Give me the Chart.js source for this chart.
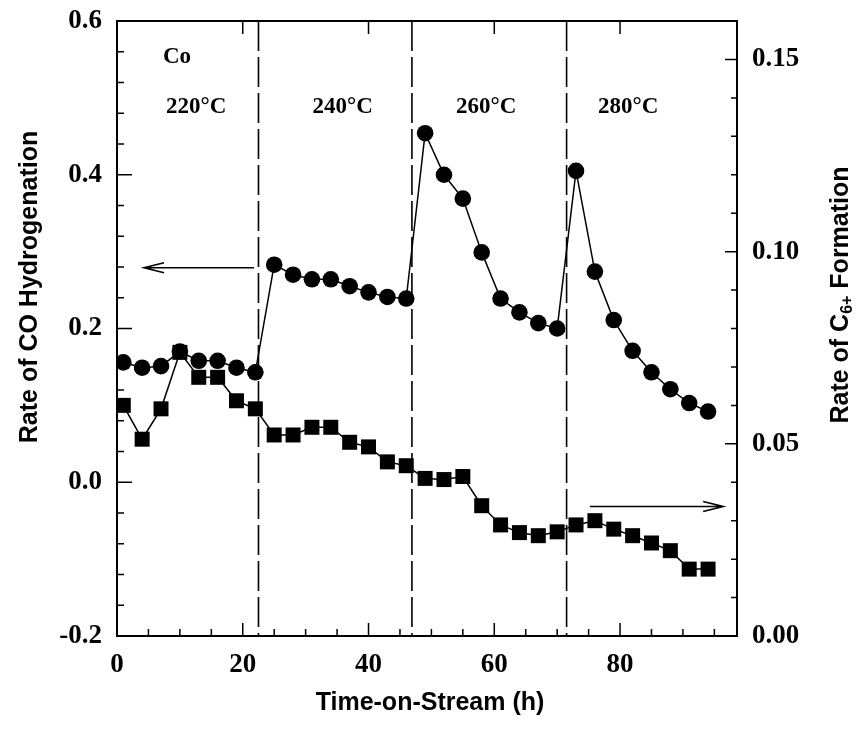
<!DOCTYPE html>
<html>
<head>
<meta charset="utf-8">
<script src="https://cdn.jsdelivr.net/npm/chart.js@4.4.1/dist/chart.umd.min.js"></script>
<style>
  html, body { margin: 0; padding: 0; background: #fff; }
  #wrap { width: 866px; height: 729px; }
</style>
</head>
<body>
<div id="wrap"><canvas id="tosChart" width="866" height="729"></canvas></div>
<script>
// time-on-stream (h)
const times = [1, 4, 7, 10, 13, 16, 19, 22, 25, 28, 31, 34, 37, 40, 43, 46,
               49, 52, 55, 58, 61, 64, 67, 70, 73, 76, 79, 82, 85, 88, 91, 94];
// rate of CO hydrogenation (left axis, circles)
const coRate = [0.156, 0.149, 0.151, 0.170, 0.158, 0.158, 0.149, 0.143,
                0.283, 0.270, 0.264, 0.264, 0.255, 0.247, 0.241, 0.239,
                0.454, 0.400, 0.369, 0.299, 0.239, 0.221, 0.207, 0.200,
                0.405, 0.274, 0.211, 0.171, 0.143, 0.121, 0.103, 0.092];
// rate of C6+ formation (right axis, squares)
const c6Rate = [0.0600, 0.0512, 0.0591, 0.0738, 0.0673, 0.0673, 0.0612, 0.0591,
                0.0523, 0.0523, 0.0543, 0.0543, 0.0504, 0.0492, 0.0453, 0.0443,
                0.0410, 0.0407, 0.0415, 0.0339, 0.0289, 0.0269, 0.0261, 0.0271,
                0.0289, 0.0300, 0.0278, 0.0261, 0.0242, 0.0222, 0.0174, 0.0174];

const xTicks = [0, 20, 40, 60, 80];
const leftTicks = [-0.2, 0.0, 0.2, 0.4, 0.6];
const rightTicks = [0.00, 0.05, 0.10, 0.15];

// temperature change times (dashed lines)
const switchTimes = [22.5, 46.9, 71.5];
// labels inside the plot: [text, time, left-axis value]
const regionLabels = [
    ['220°C', 12.6, 0.4875],
    ['240°C', 35.9, 0.4875],
    ['260°C', 58.7, 0.4875],
    ['280°C', 81.3, 0.4875]
];
const catalystLabel = ['Co', 7.3, 0.553];
// arrows: [axis, fromTime, toTime, value]
const arrows = [
    ['y', 21.8, 4.3, 0.279],
    ['y1', 75.2, 96.4, 0.0337]
];

const serif = "'Liberation Serif', 'Times New Roman', serif";
const sans = "'Liberation Sans', Arial, sans-serif";

function toPoints(xs, ys) {
    return xs.map((x, i) => ({ x: x, y: ys[i] }));
}

const decorations = {
    id: 'decorations',
    beforeDatasetsDraw(chart) {
        const ctx = chart.ctx;
        const a = chart.chartArea;
        const sx = chart.scales.x, sy = chart.scales.y, sy1 = chart.scales.y1;
        ctx.save();
        ctx.strokeStyle = '#000';

        // dashed dividers
        ctx.lineWidth = 1.6;
        ctx.setLineDash([30, 6]);
        switchTimes.forEach(t => {
            const px = sx.getPixelForValue(t);
            ctx.beginPath();
            ctx.moveTo(px, a.top);
            ctx.lineTo(px, a.bottom);
            ctx.stroke();
        });
        ctx.setLineDash([]);

        // frame
        ctx.lineWidth = 2;
        ctx.strokeRect(a.left, a.top, a.right - a.left, a.bottom - a.top);

        // inward ticks
        ctx.lineWidth = 1.5;
        ctx.beginPath();
        for (let t = 0; t <= 95; t += 5) {
            const px = sx.getPixelForValue(t);
            const major = t % 20 === 0;
            ctx.moveTo(px, a.bottom);
            ctx.lineTo(px, a.bottom - (major ? 13 : 7));
            if (major && t > 0) {
                ctx.moveTo(px, a.top);
                ctx.lineTo(px, a.top + 13);
            }
        }
        for (let i = 0; i <= 20; i++) {
            const v = -0.2 + i * 0.04;
            const py = sy.getPixelForValue(v);
            ctx.moveTo(a.left, py);
            ctx.lineTo(a.left + (i % 5 === 0 ? 15 : 7), py);
        }
        for (let i = 0; i <= 16; i++) {
            const py = sy1.getPixelForValue(i * 0.01);
            ctx.moveTo(a.right, py);
            ctx.lineTo(a.right - (i % 5 === 0 ? 12 : 6), py);
        }
        ctx.stroke();

        // arrows
        ctx.lineWidth = 1.6;
        arrows.forEach(([axis, t0, t1, v]) => {
            const scale = chart.scales[axis];
            const x0 = sx.getPixelForValue(t0), x1 = sx.getPixelForValue(t1);
            const py = scale.getPixelForValue(v);
            const dir = x1 > x0 ? 1 : -1;
            ctx.beginPath();
            ctx.moveTo(x0, py);
            ctx.lineTo(x1, py);
            ctx.moveTo(x1 - dir * 20, py - 5);
            ctx.lineTo(x1, py);
            ctx.lineTo(x1 - dir * 20, py + 5);
            ctx.stroke();
        });
        ctx.restore();
    },
    afterDraw(chart) {
        const ctx = chart.ctx;
        const a = chart.chartArea;
        const sx = chart.scales.x, sy = chart.scales.y;
        ctx.save();
        ctx.fillStyle = '#000';
        ctx.font = 'bold 23px ' + serif;
        ctx.textBaseline = 'middle';
        ctx.textAlign = 'center';
        regionLabels.forEach(([txt, t, v]) => {
            ctx.fillText(txt, sx.getPixelForValue(t), sy.getPixelForValue(v));
        });
        ctx.textAlign = 'left';
        ctx.fillText(catalystLabel[0], sx.getPixelForValue(catalystLabel[1]), sy.getPixelForValue(catalystLabel[2]));

        // x axis title
        ctx.font = 'bold 25px ' + sans;
        ctx.textAlign = 'center';
        ctx.fillText('Time-on-Stream (h)', (a.left + a.right) / 2 + 3, 703);

        // left axis title
        ctx.save();
        ctx.translate(30, 287);
        ctx.rotate(-Math.PI / 2);
        ctx.fillText('Rate of CO Hydrogenation', 0, 0);
        ctx.restore();

        // right axis title with subscript
        const big = 'bold 25px ' + sans, small = 'bold 16px ' + sans;
        const parts = [['Rate of C', big, 0], ['6+', small, 7], [' Formation', big, 0]];
        let total = 0;
        parts.forEach(p => { ctx.font = p[1]; total += ctx.measureText(p[0]).width; });
        ctx.save();
        ctx.translate(841, 295);
        ctx.rotate(-Math.PI / 2);
        ctx.textAlign = 'left';
        let cx = -total / 2;
        parts.forEach(p => {
            ctx.font = p[1];
            ctx.fillText(p[0], cx, p[2]);
            cx += ctx.measureText(p[0]).width;
        });
        ctx.restore();
        ctx.restore();
    }
};

function fixedWidth(w) {
    return function (scale) {
        scale.width = w;
        scale.paddingTop = 0;
        scale.paddingBottom = 0;
    };
}

new Chart(document.getElementById('tosChart').getContext('2d'), {
    type: 'line',
    plugins: [decorations],
    data: {
        datasets: [
            {
                label: 'CO hydrogenation',
                data: toPoints(times, coRate),
                yAxisID: 'y',
                borderColor: '#000',
                backgroundColor: '#000',
                borderWidth: 1.5,
                pointStyle: 'circle',
                pointRadius: 8.3,
                pointBorderWidth: 0,
                tension: 0,
                order: 2
            },
            {
                label: 'C6+ formation',
                data: toPoints(times, c6Rate),
                yAxisID: 'y1',
                borderColor: '#000',
                backgroundColor: '#000',
                borderWidth: 1.5,
                pointStyle: 'rect',
                pointRadius: 10.6,
                pointBorderWidth: 0,
                tension: 0,
                order: 1
            }
        ]
    },
    options: {
        responsive: false,
        animation: false,
        layout: { padding: { top: 21, left: 0, right: 0, bottom: 0 } },
        plugins: {
            legend: { display: false },
            tooltip: { enabled: false }
        },
        scales: {
            x: {
                type: 'linear',
                min: 0,
                max: 98.6,
                grid: { display: false, drawTicks: false },
                border: { display: false },
                afterBuildTicks(scale) { scale.ticks = xTicks.map(v => ({ value: v })); },
                afterFit(scale) {
                    scale.height = 93;
                    scale.paddingLeft = 0;
                    scale.paddingRight = 0;
                },
                ticks: {
                    color: '#000',
                    padding: 13,
                    maxRotation: 0,
                    font: { family: serif, size: 27, weight: 'bold' },
                    callback: v => String(v)
                }
            },
            y: {
                type: 'linear',
                position: 'left',
                min: -0.2,
                max: 0.6,
                grid: { display: false, drawTicks: false },
                border: { display: false },
                afterBuildTicks(scale) { scale.ticks = leftTicks.map(v => ({ value: v })); },
                afterFit: fixedWidth(117),
                ticks: {
                    color: '#000',
                    padding: 15,
                    font: { family: serif, size: 27, weight: 'bold' },
                    callback: v => v.toFixed(1)
                }
            },
            y1: {
                type: 'linear',
                position: 'right',
                min: 0,
                max: 0.16,
                grid: { display: false, drawTicks: false },
                border: { display: false },
                afterBuildTicks(scale) { scale.ticks = rightTicks.map(v => ({ value: v })); },
                afterFit: fixedWidth(129),
                ticks: {
                    color: '#000',
                    padding: 15,
                    font: { family: serif, size: 27, weight: 'bold' },
                    callback: v => v.toFixed(2)
                }
            }
        }
    }
});
</script>
</body>
</html>
